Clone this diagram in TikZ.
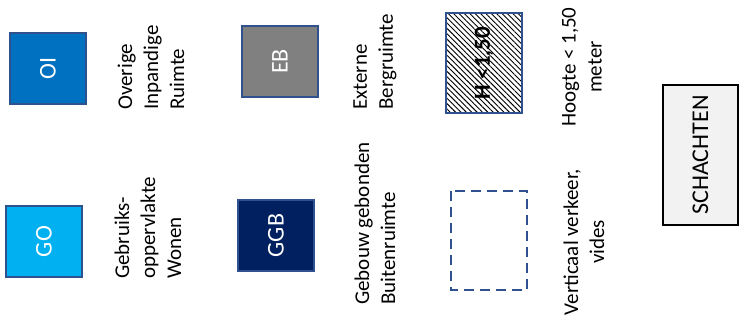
\documentclass[tikz,border=0pt]{standalone}
\usepackage{fontspec}
\setmainfont{Carlito}
\usetikzlibrary{patterns.meta,positioning}

\definecolor{edgeblue}{HTML}{2F528F}
\definecolor{oiblue}{HTML}{0070C0}
\definecolor{goblue}{HTML}{00B0F0}
\definecolor{ggbblue}{HTML}{002060}
\definecolor{ebgray}{HTML}{808080}
\definecolor{shaftgray}{HTML}{F2F2F2}

\begin{document}
\begin{tikzpicture}[x=1pt,y=-1pt,
  legbox/.style={draw=edgeblue, line width=1.6pt, rotate=90, inner sep=0pt,
    minimum width=71pt, minimum height=76pt, text=white,
    font=\fontsize{24}{28}\selectfont},
  legtext/.style={rotate=90, inner sep=0pt, font=\fontsize{21}{26}\selectfont}]
\useasboundingbox (0,0) rectangle (745,323);

% Top row
\node[legbox, fill=oiblue] (oi) at (48,68.5) {OI};
\node[legtext, align=left, anchor=west] (oitext) at (151,110)
  {Overige\\Inpandige\\Ruimte};

\node[legbox, fill=ebgray] (eb) at (280,61.5) {EB};
\node[legtext, align=left, anchor=west] (ebtext) at (375,110)
  {Externe\\Bergruimte};

\node[legbox, minimum width=100pt, fill=white,
  pattern={Lines[angle=-45,distance=3.8pt,line width=0.9pt]},
  text=black, font=\fontsize{23}{28}\selectfont\bfseries] (low) at (484,63) {H <1,50};
\node[legtext, align=center] (lowtext) at (582,67) {Hoogte < 1,50\\meter};

% Bottom row
\node[legbox, fill=goblue] (go) at (44,241.5) {GO};
\node[legtext, align=left, anchor=west] (gotext) at (148,279)
  {Gebruiks-\\oppervlakte\\Wonen};

\node[legbox, fill=ggbblue] (ggb) at (276,235.5) {GGB};
\node[legtext, align=left, anchor=west] (ggbtext) at (375,305)
  {Gebouw gebonden\\Buitenruimte};

\node[legbox, minimum width=99pt, dash pattern=on 10pt off 6pt] (vides) at (489,240.5) {};
\node[legtext, align=center] (videstext) at (584,242) {Verticaal verkeer,\\vides};

% Shafts
\node[legbox, draw=black, fill=shaftgray, minimum width=140pt, minimum height=75pt,
  text=black, font=\fontsize{24}{28}\selectfont] (shaft) at (700.5,155) {SCHACHTEN};
\end{tikzpicture}
\end{document}
